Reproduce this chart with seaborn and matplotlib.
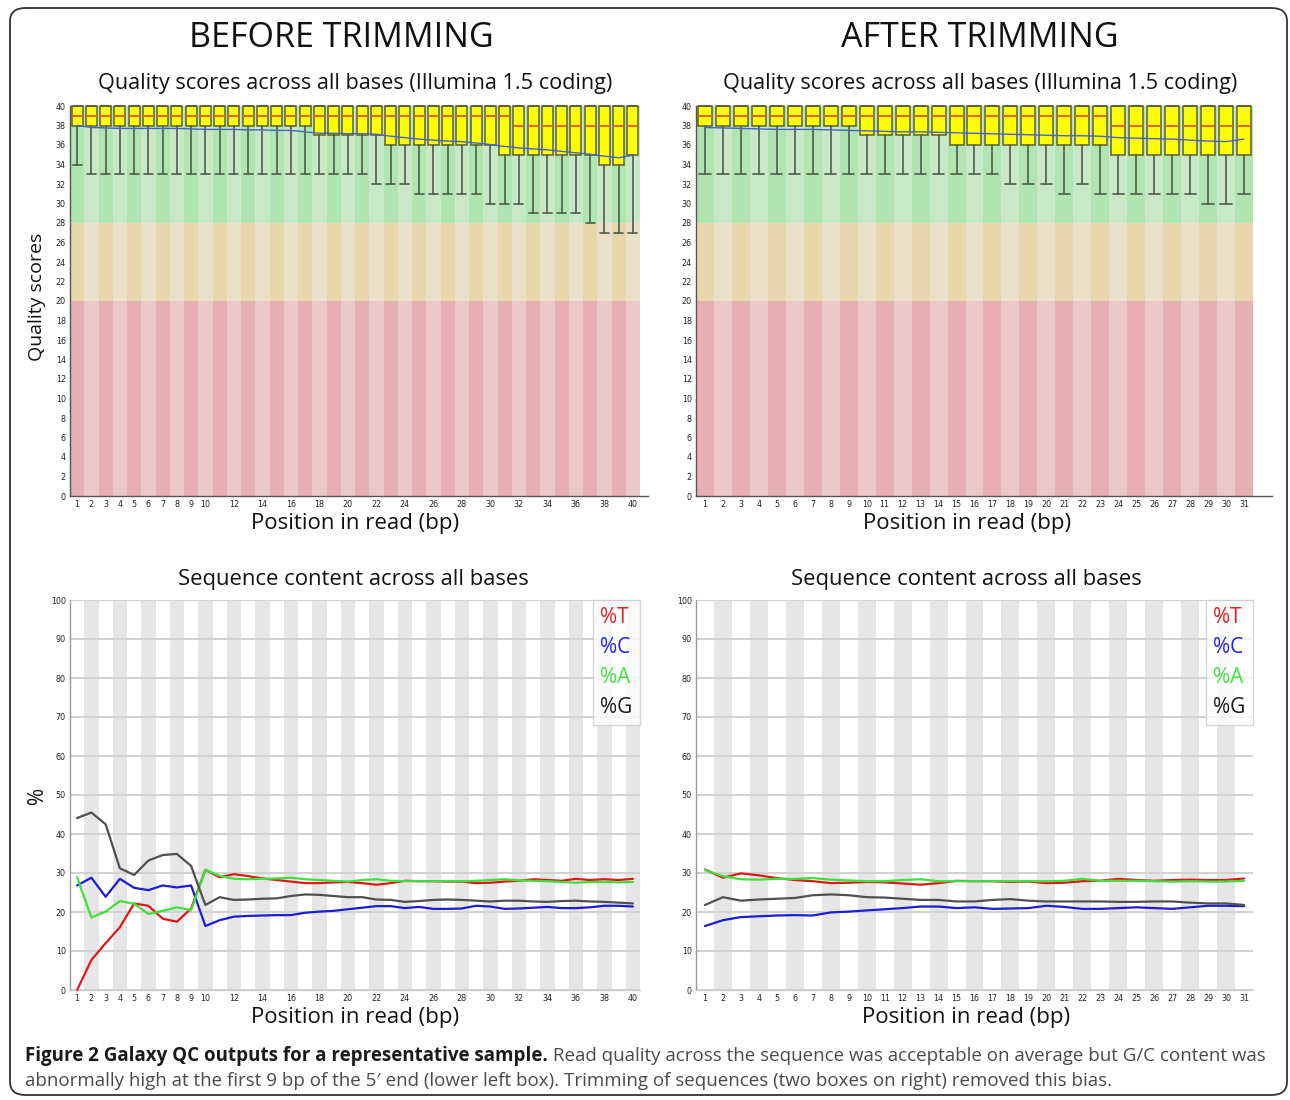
import matplotlib
matplotlib.use('Agg')
import matplotlib.pyplot as plt
import seaborn as sns
import pandas as pd
import numpy as np
from matplotlib.patches import FancyBboxPatch
from matplotlib.lines import Line2D
from matplotlib import font_manager

# ---------------- data ----------------
before_pos = list(range(1, 41))
before_q1 = [38, 38, 38, 38, 38, 38, 38, 38, 38, 38, 38, 38, 38, 38, 38, 38, 38,
             37, 37, 37, 37, 37, 36, 36, 36, 36, 36, 36, 36, 36,
             35, 35, 35, 35, 35, 35, 35, 34, 34, 35]
before_med = [39, 39, 39, 39, 39, 39, 39, 39, 39, 39, 39, 39, 39, 39, 39, 39, 39, 39, 39, 39,
              39, 39, 39, 39, 39, 39, 39, 39, 39, 39, 39, 38, 38, 38, 38, 38, 38, 38, 38, 38]
before_q3 = [40, 40, 40, 40, 40, 40, 40, 40, 40, 40, 40, 40, 40, 40, 40, 40, 40, 40, 40, 40,
             40, 40, 40, 40, 40, 40, 40, 40, 40, 40, 40, 40, 40, 40, 40, 40, 40, 40, 40, 40]
before_low = [34, 33, 33, 33, 33, 33, 33, 33, 33, 33, 33, 33, 33, 33, 33, 33, 33, 33, 33, 33,
              33, 32, 32, 32, 31, 31, 31, 31, 31, 30, 30, 30, 29, 29, 29, 29, 28, 27, 27, 27]
before_mean = [38.0, 37.8, 37.75, 37.7, 37.7, 37.7, 37.7, 37.7, 37.65, 37.6, 37.6, 37.6, 37.55,
               37.55, 37.5, 37.5, 37.35, 37.2, 37.2, 37.15, 37.15, 37.1, 36.9, 36.75, 36.6, 36.5,
               36.4, 36.35, 36.2, 36.05, 35.85, 35.7, 35.6, 35.5, 35.35, 35.2, 35.05, 34.85, 34.7,
               34.95]

after_pos = list(range(1, 32))
after_q1 = [38, 38, 38, 38, 38, 38, 38, 38, 38, 37, 37, 37, 37, 37, 36, 36, 36, 36, 36, 36,
            36, 36, 36, 35, 35, 35, 35, 35, 35, 35, 35]
after_med = [39, 39, 39, 39, 39, 39, 39, 39, 39, 39, 39, 39, 39, 39, 39, 39, 39, 39, 39, 39,
             39, 39, 39, 38, 38, 38, 38, 38, 38, 38, 38]
after_q3 = [40, 40, 40, 40, 40, 40, 40, 40, 40, 40, 40, 40, 40, 40, 40, 40, 40, 40, 40, 40,
            40, 40, 40, 40, 40, 40, 40, 40, 40, 40, 40]
after_low = [33, 33, 33, 33, 33, 33, 33, 33, 33, 33, 33, 33, 33, 33, 33, 33, 33, 32, 32, 32,
             31, 32, 31, 31, 31, 31, 31, 31, 30, 30, 31]
after_mean = [37.8, 37.75, 37.7, 37.65, 37.6, 37.6, 37.6, 37.55, 37.5, 37.45, 37.4, 37.35, 37.35,
              37.3, 37.25, 37.2, 37.15, 37.1, 37.05, 37.0, 36.95, 36.95, 36.9, 36.75, 36.7, 36.65,
              36.6, 36.5, 36.4, 36.35, 36.6]

before_T = [0.0, 7.7, 12.0, 16.1, 22.2, 21.6, 18.3, 17.5, 20.9, 30.8, 28.9, 29.7, 29.2, 28.6, 28.2,
            27.8, 27.4, 27.4, 27.6, 27.7, 27.4, 27.0, 27.4, 28.0, 27.9, 27.9, 27.8, 27.8, 27.4,
            27.5, 27.8, 28.0, 28.4, 28.2, 28.0, 28.5, 28.2, 28.4, 28.2, 28.5]
before_C = [26.8, 28.8, 23.9, 28.5, 26.2, 25.6, 26.8, 26.3, 26.8, 16.4, 17.9, 18.8, 19.0, 19.1,
            19.2, 19.2, 19.8, 20.1, 20.3, 20.7, 21.1, 21.5, 21.5, 21.0, 21.3, 20.8, 20.8, 20.9,
            21.6, 21.4, 20.8, 20.9, 21.1, 21.3, 21.0, 21.0, 21.2, 21.6, 21.6, 21.4]
before_A = [28.9, 18.6, 20.1, 22.8, 22.1, 19.5, 20.3, 21.2, 20.5, 30.8, 29.3, 28.5, 28.4, 28.5,
            28.6, 28.8, 28.4, 28.2, 28.0, 27.8, 28.2, 28.4, 28.0, 27.9, 27.9, 27.9, 27.9, 27.9,
            28.0, 28.2, 28.4, 28.1, 28.0, 27.9, 27.7, 27.5, 27.7, 27.7, 27.6, 27.7]
before_G = [44.1, 45.5, 42.5, 31.2, 29.5, 33.2, 34.6, 34.9, 31.8, 21.8, 23.8, 23.1, 23.2, 23.4,
            23.5, 24.1, 24.5, 24.4, 24.1, 23.8, 23.8, 23.2, 23.1, 22.6, 22.8, 23.1, 23.2, 23.1,
            22.9, 22.7, 22.9, 22.9, 22.7, 22.6, 22.8, 22.9, 22.7, 22.6, 22.4, 22.2]

after_T = [30.9, 28.8, 29.9, 29.4, 28.7, 28.2, 27.9, 27.4, 27.5, 27.7, 27.6, 27.3, 27.0, 27.4,
           28.0, 27.9, 27.9, 27.7, 27.8, 27.4, 27.5, 27.9, 28.0, 28.5, 28.2, 28.0, 28.2, 28.3,
           28.2, 28.2, 28.6]
after_C = [16.4, 17.9, 18.7, 18.9, 19.1, 19.2, 19.1, 19.9, 20.1, 20.4, 20.7, 21.0, 21.4, 21.4,
           21.0, 21.2, 20.8, 20.9, 21.0, 21.6, 21.3, 20.8, 20.8, 21.0, 21.2, 21.0, 20.8, 21.2,
           21.6, 21.6, 21.5]
after_A = [30.8, 29.2, 28.4, 28.3, 28.5, 28.5, 28.7, 28.3, 28.1, 27.9, 27.9, 28.2, 28.4, 27.9,
           27.9, 27.9, 27.9, 27.9, 27.9, 27.9, 28.0, 28.5, 28.0, 28.0, 28.0, 27.9, 27.8, 27.9,
           27.8, 27.8, 28.0]
after_G = [21.8, 23.8, 22.9, 23.2, 23.4, 23.6, 24.3, 24.5, 24.3, 23.8, 23.7, 23.4, 23.1, 23.1,
           22.7, 22.7, 23.1, 23.3, 22.9, 22.7, 22.7, 22.7, 22.7, 22.6, 22.6, 22.7, 22.7, 22.4,
           22.2, 22.2, 21.8]

before_xticks = [1, 2, 3, 4, 5, 6, 7, 8, 9, 10, 12, 14, 16, 18, 20, 22, 24, 26, 28, 30, 32, 34,
                 36, 38, 40]
after_xticks = after_pos
bases = ['%T', '%C', '%A', '%G']
base_colors = {'%T': '#e01818', '%C': '#1c1cd8', '%A': '#3ee03e', '%G': '#505050'}
legend_text_colors = {'%T': '#e02424', '%C': '#2424e0', '%A': '#44e044', '%G': '#1a1a1a'}

# ---------------- style ----------------
sns.set_theme(style='white')
avail = {f.name for f in font_manager.fontManager.ttflist}
main_fonts = [f for f in ['Liberation Sans Narrow', 'Open Sans', 'Liberation Sans'] if f in avail]
plt.rcParams['font.family'] = main_fonts + ['DejaVu Sans']
TICKFONT = ['DejaVu Sans']

W, H = 1290, 1100
fig = plt.figure(figsize=(W / 100, H / 100), dpi=100)
fig.patch.set_facecolor('white')


def ax_px(l, t, r, b):
    return fig.add_axes([l / W, 1 - b / H, (r - l) / W, (b - t) / H])


def fx(x):
    return x / W


def fy(y):
    return 1 - y / H


def quality_panel(ax, pos, q1, med, q3, low, mean, xticks, extra):
    pos = np.array(pos)
    n = len(pos)
    bands = [(0, 20, '#e6afb1', '#ecc8c8'),
             (20, 28, '#e8d6ad', '#ebe0c9'),
             (28, 40, '#b0e4b0', '#c8e8c8')]
    for lo, hi, cd, cl in bands:
        cols = [cd if p % 2 == 1 else cl for p in pos]
        ax.bar(pos, hi - lo, bottom=lo, width=1.0, color=cols, linewidth=0, zorder=0)
    stats = [dict(med=m, q1=a, q3=b, whislo=w, whishi=b)
             for a, m, b, w in zip(q1, med, q3, low)]
    arts = ax.bxp(stats, positions=pos, widths=0.78, capwidths=0.62, patch_artist=True,
                  showfliers=False, manage_ticks=False,
                  boxprops=dict(facecolor='#ffff00', edgecolor='#5e5e30', linewidth=1.1),
                  medianprops=dict(color='#e0641a', linewidth=1.4),
                  whiskerprops=dict(color='#4e5c4e', linewidth=1.2),
                  capprops=dict(color='#4e5c4e', linewidth=1.2))
    for k in arts:
        for a in arts[k]:
            a.set_clip_on(False)
            a.set_zorder(3)
    sns.lineplot(x=pos, y=mean, ax=ax, color='#4464c8', linewidth=1.0, zorder=4)
    ax.set_xlim(0.5, n + 0.5 + extra)
    ax.set_ylim(0, 40)
    ax.set_yticks(np.arange(0, 41, 2))
    ax.set_xticks(xticks)
    ax.set_xticklabels([str(t) for t in xticks], fontfamily=TICKFONT)
    ax.set_yticklabels([str(t) for t in range(0, 41, 2)], fontfamily=TICKFONT)
    ax.tick_params(axis='both', length=0, labelsize=5.8, pad=3, colors='#222222')
    for s in ['top', 'right']:
        ax.spines[s].set_visible(False)
    for s in ['left', 'bottom']:
        ax.spines[s].set_color('#555555')
        ax.spines[s].set_linewidth(1.0)
    ax.set_xlabel('')
    ax.set_ylabel('')
    ax.grid(False)


def content_panel(ax, pos, T, C, A, G, xticks):
    pos = np.array(pos)
    n = len(pos)
    even = pos[pos % 2 == 0]
    ax.bar(even, 100, width=1.0, color='#e6e6e6', linewidth=0, zorder=0)
    df = pd.DataFrame({'pos': np.concatenate([pos] * 4),
                       'val': np.concatenate([T, C, A, G]),
                       'base': np.repeat(bases, n)})
    sns.lineplot(data=df, x='pos', y='val', hue='base', hue_order=bases, palette=base_colors,
                 ax=ax, linewidth=1.6, legend=False, zorder=3)
    for ln in ax.lines:
        ln.set_clip_on(False)
    ax.set_xlim(0.5, n + 0.5)
    ax.set_ylim(0, 100)
    ax.set_yticks(np.arange(0, 101, 10))
    ax.set_axisbelow(True)
    ax.yaxis.grid(True, color='#d2d2d2', linewidth=1.5)
    ax.xaxis.grid(False)
    ax.set_xticks(xticks)
    ax.set_xticklabels([str(t) for t in xticks], fontfamily=TICKFONT)
    ax.set_yticklabels([str(t) for t in range(0, 101, 10)], fontfamily=TICKFONT)
    ax.tick_params(axis='both', length=0, labelsize=5.8, pad=3, colors='#222222')
    for s in ['top', 'right']:
        ax.spines[s].set_visible(False)
    ax.spines['left'].set_color('#999999')
    ax.spines['bottom'].set_color('#cccccc')
    ax.spines['left'].set_linewidth(1.0)
    ax.spines['bottom'].set_linewidth(1.0)
    ax.set_xlabel('')
    ax.set_ylabel('')
    handles = [Line2D([], [], alpha=0) for _ in bases]
    leg = ax.legend(handles, bases, loc='upper right', handlelength=0, handletextpad=0,
                    frameon=True, fancybox=False, edgecolor='#cccccc',
                    borderaxespad=0, labelspacing=0.42, borderpad=0.35,
                    prop={'family': ['Open Sans', 'DejaVu Sans'], 'size': 15})
    leg.get_frame().set_linewidth(1.0)
    for t, b in zip(leg.get_texts(), bases):
        t.set_color(legend_text_colors[b])
    leg.set_zorder(5)


# ---------------- panels ----------------
ax1 = ax_px(70, 106, 648, 496)
quality_panel(ax1, before_pos, before_q1, before_med, before_q3, before_low, before_mean,
              before_xticks, extra=8 / 14.25)
ax2 = ax_px(696, 106, 1272, 496)
quality_panel(ax2, after_pos, after_q1, after_med, after_q3, after_low, after_mean,
              after_xticks, extra=19 / 17.95)

ax3 = ax_px(70, 600, 640, 990)
content_panel(ax3, before_pos, before_T, before_C, before_A, before_G, before_xticks)
ax4 = ax_px(696, 600, 1253, 990)
content_panel(ax4, after_pos, after_T, after_C, after_A, after_G, after_xticks)

# ---------------- text ----------------
fig.text(fx(341), fy(38), 'BEFORE TRIMMING', ha='center', va='center', fontsize=24.5,
         color='#111111')
fig.text(fx(980), fy(38), 'AFTER TRIMMING', ha='center', va='center', fontsize=24.5,
         color='#111111')
for xc in (355, 980):
    fig.text(fx(xc), fy(84), 'Quality scores across all bases (Illumina 1.5 coding)',
             ha='center', va='center', fontsize=15.6, color='#111111')
for xc in (353, 966):
    fig.text(fx(xc), fy(579), 'Sequence content across all bases', ha='center', va='center',
             fontsize=15.8, color='#111111')
for xc, yc in ((355, 523), (967, 523), (355, 1017), (966, 1017)):
    fig.text(fx(xc), fy(yc), 'Position in read (bp)', ha='center', va='center', fontsize=16,
             color='#111111')
fig.text(fx(37), fy(297), 'Quality scores', rotation=90, ha='center', va='center',
         fontsize=14, color='#111111')
fig.text(fx(37), fy(795), '%', rotation=90, ha='center', va='center', fontsize=15,
         color='#111111')

# caption
cap_bold = 'Figure 2 Galaxy QC outputs for a representative sample.'
cap_rest1 = (' Read quality across the sequence was acceptable on average but G/C content was')
cap_line2 = ('abnormally high at the first 9 bp of the 5\u2032 end (lower left box). Trimming of '
             'sequences (two boxes on right) removed this bias.')
t_b = fig.text(fx(25), fy(1056), cap_bold, ha='left', va='center', fontsize=13.5,
               fontweight='bold', color='#1a1a1a')
fig.canvas.draw()
r = fig.canvas.get_renderer()
bb = t_b.get_window_extent(renderer=r)
fig.text(bb.x1 / W, fy(1056), cap_rest1, ha='left', va='center', fontsize=13.5,
         color='#4a4a4a')
fig.text(fx(25), fy(1081), cap_line2, ha='left', va='center', fontsize=13.5, color='#4a4a4a')

# rounded border
border = FancyBboxPatch((fx(10), fy(1095)), fx(1287) - fx(10), fy(8) - fy(1095),
                        boxstyle='round,pad=0,rounding_size=0.012', transform=fig.transFigure,
                        fill=False, edgecolor='#333333', linewidth=1.3, zorder=10)
fig.patches.append(border)

fig.savefig('out.png', dpi=100)
